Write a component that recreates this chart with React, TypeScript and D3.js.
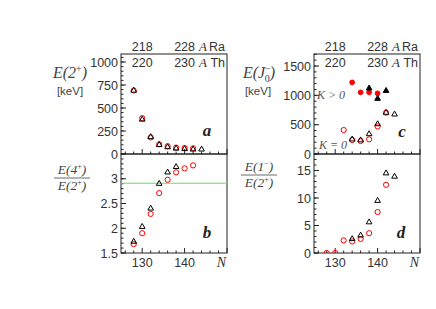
import React from "react";
import * as d3 from "d3";

// ---- data ----
const raE2N = [128, 130, 132, 134, 136, 138, 140, 142];
const raE2 = [690, 390, 180, 105, 85, 70, 65, 62];
const thE2N = [128, 130, 132, 134, 136, 138, 140, 142, 144];
const thE2 = [690, 375, 185, 100, 75, 60, 55, 50, 50];

const raR42N = [128, 130, 132, 134, 136, 138, 140, 142];
const raR42 = [1.68, 1.9, 2.29, 2.71, 2.98, 3.13, 3.21, 3.27];
const thR42N = [128, 130, 132, 134, 136, 138];
const thR42 = [1.73, 2.03, 2.4, 2.9, 3.13, 3.24];
const x5Ratio = 2.91;

const raKpN = [134, 136, 138, 140];
const raKp = [1221, 1051, 1051, 1034];
const thKpN = [138, 140, 142];
const thKp = [1120, 943, 1078];
const raK0N = [132, 134, 136, 138, 140, 142];
const raK0 = [409, 239, 221, 250, 470, 705];
const thK0N = [134, 136, 138, 140, 142, 144];
const thK0 = [250, 235, 340, 510, 705, 676];

const raR1N = [128, 130, 132, 134, 136, 138, 140, 142];
const raR1 = [0, 0, 2.3, 2.1, 2.55, 3.6, 7.45, 12.4];
const thR1N = [134, 136, 138, 140, 142, 144];
const thR1 = [2.55, 3.2, 5.6, 9.5, 14.5, 13.9];

const nTicks = [130, 140];
const raTop = ["218", "228"];
const thTop = ["220", "230"];

// ---- layout ----
const TOP = 54, MID = 154, BOT = 253;
const LX0 = 121, LX1 = 227;
const RX0 = 314, RX1 = 420;
const RED = "#ff0000";
const TICK_FONT = "'Liberation Sans', Arial, sans-serif";
const SERIF = "'Liberation Serif', 'DejaVu Serif', serif";

type Pt = { n: number; v: number };
const zip = (ns: number[], vs: number[]): Pt[] => ns.map((n, i) => ({ n, v: vs[i] }));

const tri = d3.symbol().type(d3.symbolTriangle).size(14)();

function Panel(props: {
  id: string;
  x: d3.ScaleLinear<number, number>;
  y: d3.ScaleLinear<number, number>;
  major: number[];
  minorStep: number;
  labels: string[];
  showX: boolean;
  children?: React.ReactNode;
}) {
  const { id, x, y, major, minorStep, labels, showX, children } = props;
  const [x0, x1] = x.range();
  const [yb, yt] = y.range();
  const [d0, d1] = y.domain();
  const minors: number[] = [];
  for (let v = d0; v <= d1 + 1e-9; v += minorStep) minors.push(+v.toFixed(6));
  const xMin: number[] = [];
  for (let n = 126; n <= 150; n += 2) xMin.push(n);
  return (
    <g>
      <defs>
        <clipPath id={id}>
          <rect x={x0} y={yt} width={x1 - x0} height={yb - yt} />
        </clipPath>
      </defs>
      <rect x={x0} y={yt} width={x1 - x0} height={yb - yt} fill="none" stroke="#222" strokeWidth={1} />
      {minors.map((v, i) => (
        <line key={"ym" + i} x1={x0} x2={x0 + 2.5} y1={y(v)} y2={y(v)} stroke="#222" />
      ))}
      {major.map((v, i) => (
        <g key={"yM" + i}>
          <line x1={x0} x2={x0 + 5} y1={y(v)} y2={y(v)} stroke="#222" />
          <text x={x0 - 3} y={y(v)} dy="0.36em" textAnchor="end" fontFamily={TICK_FONT} fontSize={12.5} fill="#333">
            {labels[i]}
          </text>
        </g>
      ))}
      {xMin.map((n) => (
        <line key={"xm" + n} x1={x(n)} x2={x(n)} y1={yb} y2={yb - (n % 10 === 0 ? 5 : 2.5)} stroke="#222" />
      ))}
      {showX &&
        nTicks.map((n) => (
          <text key={"xl" + n} x={x(n)} y={yb + 14} textAnchor="middle" fontFamily={TICK_FONT} fontSize={12.5} fill="#333">
            {n}
          </text>
        ))}
      {showX && (
        <text x={x1 - 1} y={yb + 14} textAnchor="end" fontFamily={SERIF} fontStyle="italic" fontSize={14} fill="#333">
          N
        </text>
      )}
      <g clipPath={`url(#${id})`}>{children}</g>
    </g>
  );
}

function Circles({ pts, x, y, filled, r }: { pts: Pt[]; x: any; y: any; filled?: boolean; r?: number }) {
  return (
    <g>
      {pts.map((p, i) => (
        <circle
          key={i}
          cx={x(p.n)}
          cy={y(p.v)}
          r={r ?? 2.6}
          fill={filled ? RED : "none"}
          stroke={RED}
          strokeWidth={1}
        />
      ))}
    </g>
  );
}

function Tris({ pts, x, y, filled }: { pts: Pt[]; x: any; y: any; filled?: boolean }) {
  return (
    <g>
      {pts.map((p, i) => (
        <path
          key={i}
          d={tri as string}
          transform={`translate(${x(p.n)},${y(p.v)})`}
          fill={filled ? "#000" : "none"}
          stroke="#000"
          strokeWidth={1}
        />
      ))}
    </g>
  );
}

function TopLabels({ x }: { x: d3.ScaleLinear<number, number> }) {
  const x1 = x.range()[1];
  return (
    <g fontFamily={TICK_FONT} fontSize={12.5} fill="#333">
      {nTicks.map((n, i) => (
        <text key={"r" + n} x={x(n)} y={TOP - 3} textAnchor="middle">
          {raTop[i]}
        </text>
      ))}
      {nTicks.map((n, i) => (
        <text key={"t" + n} x={x(n)} y={TOP + 13} textAnchor="middle">
          {thTop[i]}
        </text>
      ))}
      <text x={x1 - 24} y={TOP - 3} textAnchor="middle" fontFamily={SERIF} fontStyle="italic" fontSize={13}>
        A
      </text>
      <text x={x1 - 2} y={TOP - 3} textAnchor="end">
        Ra
      </text>
      <text x={x1 - 24} y={TOP + 13} textAnchor="middle" fontFamily={SERIF} fontStyle="italic" fontSize={13}>
        A
      </text>
      <text x={x1 - 2} y={TOP + 13} textAnchor="end">
        Th
      </text>
    </g>
  );
}

function Fraction({ cx, cy, num, den }: { cx: number; cy: number; num: React.ReactNode; den: React.ReactNode }) {
  return (
    <g fontFamily={SERIF} fontStyle="italic" fontSize={13.5} fill="#444" textAnchor="middle">
      <text x={cx} y={cy - 4}>{num}</text>
      <line x1={cx - 18} x2={cx + 18} y1={cy} y2={cy} stroke="#444" strokeWidth={0.8} />
      <text x={cx} y={cy + 12}>{den}</text>
    </g>
  );
}

export default function App() {
  const xL = d3.scaleLinear().domain([125, 150]).range([LX0, LX1]);
  const xR = d3.scaleLinear().domain([125, 150]).range([RX0, RX1]);
  const yA = d3.scaleLinear().domain([0, 1087]).range([MID, TOP]);
  const yB = d3.scaleLinear().domain([1.5, 3.5]).range([BOT, MID]);
  const yC = d3.scaleLinear().domain([0, 1705]).range([MID, TOP]);
  const yD = d3.scaleLinear().domain([0, 18]).range([BOT, MID]);

  const letter = (x: number, y: number, s: string) => (
    <text x={x} y={y} fontFamily={SERIF} fontStyle="italic" fontWeight="bold" fontSize={17} fill="#222" textAnchor="middle">
      {s}
    </text>
  );

  return (
    <svg width={436} height={309} style={{ position: "absolute", left: 0, top: 0, background: "#fff" }}>
      <rect width={436} height={309} fill="#fff" />
      {/* panel a */}
      <Panel id="ca" x={xL} y={yA} major={[0, 250, 500, 750, 1000]} minorStep={50} labels={["0", "250", "500", "750", "1000"]} showX={false}>
        <Circles pts={zip(raE2N, raE2)} x={xL} y={yA} />
        <Tris pts={zip(thE2N, thE2)} x={xL} y={yA} />
      </Panel>
      {/* panel b */}
      <Panel id="cb" x={xL} y={yB} major={[1.5, 2, 2.5, 3]} minorStep={0.1} labels={["1.5", "2", "2.5", "3"]} showX={true}>
        <line x1={LX0} x2={LX1} y1={yB(x5Ratio)} y2={yB(x5Ratio)} stroke="#66dd55" strokeWidth={1} />
        <Circles pts={zip(raR42N, raR42)} x={xL} y={yB} />
        <Tris pts={zip(thR42N, thR42)} x={xL} y={yB} />
      </Panel>
      {/* panel c */}
      <Panel id="cc" x={xR} y={yC} major={[0, 500, 1000, 1500]} minorStep={100} labels={["0", "500", "1000", "1500"]} showX={false}>
        <Circles pts={zip(raKpN, raKp)} x={xR} y={yC} filled r={2.4} />
        <Tris pts={zip(thKpN, thKp)} x={xR} y={yC} filled />
        <Circles pts={zip(raK0N, raK0)} x={xR} y={yC} />
        <Tris pts={zip(thK0N, thK0)} x={xR} y={yC} />
      </Panel>
      {/* panel d */}
      <Panel id="cd" x={xR} y={yD} major={[0, 5, 10, 15]} minorStep={1} labels={["0", "5", "10", "15"]} showX={true}>
        <Circles pts={zip(raR1N, raR1)} x={xR} y={yD} />
        <Tris pts={zip(thR1N, thR1)} x={xR} y={yD} />
      </Panel>

      <TopLabels x={xL} />
      <TopLabels x={xR} />

      {letter(207, 136, "a")}
      {letter(207, 238, "b")}
      {letter(402, 137, "c")}
      {letter(401, 238, "d")}

      <text x={317} y={99} fontFamily={SERIF} fontStyle="italic" fontSize={12} fill="#555">
        K {"> 0"}
      </text>
      <text x={319} y={149} fontFamily={SERIF} fontStyle="italic" fontSize={12} fill="#555">
        K = 0
      </text>

      {/* y titles */}
      <text x={70} y={78} textAnchor="middle" fontFamily={SERIF} fontStyle="italic" fontSize={16} fill="#444">
        E(2<tspan dy={-6} fontSize={10} fontStyle="normal">+</tspan><tspan dy={6}>)</tspan>
      </text>
      <text x={70} y={95} textAnchor="middle" fontFamily={TICK_FONT} fontSize={11.5} fill="#444">
        [keV]
      </text>
      <Fraction
        cx={72}
        cy={178}
        num={<>E(4<tspan dy={-5} fontSize={8} fontStyle="normal">+</tspan><tspan dy={5}>)</tspan></>}
        den={<>E(2<tspan dy={-5} fontSize={8} fontStyle="normal">+</tspan><tspan dy={5}>)</tspan></>}
      />
      <text x={259} y={78} textAnchor="middle" fontFamily={SERIF} fontStyle="italic" fontSize={16} fill="#444">
        E(J<tspan dy={-6} fontSize={10} fontStyle="normal">−</tspan><tspan dx={-6} dy={10} fontSize={10} fontStyle="normal">0</tspan><tspan dy={-4}>)</tspan>
      </text>
      <text x={258} y={95} textAnchor="middle" fontFamily={TICK_FONT} fontSize={11.5} fill="#444">
        [keV]
      </text>
      <Fraction
        cx={259}
        cy={175}
        num={<>E(1<tspan dy={-5} fontSize={8} fontStyle="normal">−</tspan><tspan dy={5}>)</tspan></>}
        den={<>E(2<tspan dy={-5} fontSize={8} fontStyle="normal">+</tspan><tspan dy={5}>)</tspan></>}
      />
    </svg>
  );
}
